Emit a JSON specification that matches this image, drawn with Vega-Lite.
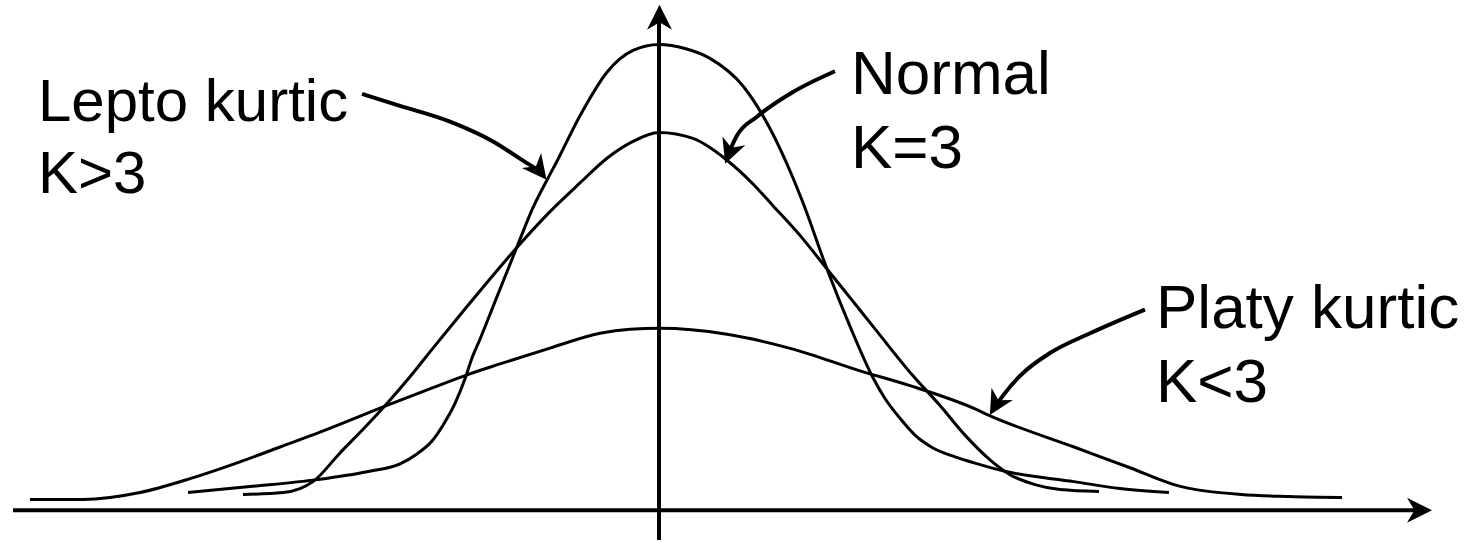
{
  "$schema": "https://vega.github.io/schema/vega-lite/v6.json",
  "width": 1474,
  "height": 542,
  "autosize": {"type": "fit", "contains": "padding"},
  "padding": 0,
  "background": "white",
  "config": {"view": {"stroke": null}},
  "datasets": {
    "curves": [
      {"c": "lepto", "x": 188, "h": 18}, {"c": "lepto", "x": 250, "h": 24}, {"c": "lepto", "x": 317, "h": 31}, {"c": "lepto", "x": 367, "h": 39},
      {"c": "lepto", "x": 400, "h": 47}, {"c": "lepto", "x": 417, "h": 57}, {"c": "lepto", "x": 432, "h": 70}, {"c": "lepto", "x": 443, "h": 86},
      {"c": "lepto", "x": 455, "h": 108}, {"c": "lepto", "x": 465, "h": 133}, {"c": "lepto", "x": 472, "h": 154}, {"c": "lepto", "x": 480, "h": 173},
      {"c": "lepto", "x": 497, "h": 216}, {"c": "lepto", "x": 518, "h": 269}, {"c": "lepto", "x": 533, "h": 306}, {"c": "lepto", "x": 547, "h": 334},
      {"c": "lepto", "x": 557, "h": 353}, {"c": "lepto", "x": 580, "h": 399}, {"c": "lepto", "x": 607, "h": 443}, {"c": "lepto", "x": 633, "h": 465},
      {"c": "lepto", "x": 659, "h": 471}, {"c": "lepto", "x": 685, "h": 467}, {"c": "lepto", "x": 710, "h": 457}, {"c": "lepto", "x": 743, "h": 429},
      {"c": "lepto", "x": 770, "h": 386}, {"c": "lepto", "x": 793, "h": 336}, {"c": "lepto", "x": 803, "h": 311}, {"c": "lepto", "x": 827, "h": 244},
      {"c": "lepto", "x": 850, "h": 186}, {"c": "lepto", "x": 873, "h": 134}, {"c": "lepto", "x": 885, "h": 113}, {"c": "lepto", "x": 900, "h": 93},
      {"c": "lepto", "x": 915, "h": 76}, {"c": "lepto", "x": 933, "h": 63}, {"c": "lepto", "x": 955, "h": 54}, {"c": "lepto", "x": 974, "h": 48},
      {"c": "lepto", "x": 1007, "h": 39}, {"c": "lepto", "x": 1074, "h": 29}, {"c": "lepto", "x": 1120, "h": 22}, {"c": "lepto", "x": 1169, "h": 18},

      {"c": "normal", "x": 243, "h": 16}, {"c": "normal", "x": 283, "h": 18}, {"c": "normal", "x": 300, "h": 22}, {"c": "normal", "x": 313, "h": 29},
      {"c": "normal", "x": 340, "h": 58}, {"c": "normal", "x": 365, "h": 84}, {"c": "normal", "x": 387, "h": 108}, {"c": "normal", "x": 410, "h": 135},
      {"c": "normal", "x": 433, "h": 164}, {"c": "normal", "x": 467, "h": 206}, {"c": "normal", "x": 495, "h": 240}, {"c": "normal", "x": 518, "h": 267},
      {"c": "normal", "x": 550, "h": 302}, {"c": "normal", "x": 580, "h": 331}, {"c": "normal", "x": 607, "h": 356}, {"c": "normal", "x": 633, "h": 373},
      {"c": "normal", "x": 659, "h": 382}, {"c": "normal", "x": 693, "h": 376}, {"c": "normal", "x": 727, "h": 354}, {"c": "normal", "x": 753, "h": 330},
      {"c": "normal", "x": 773, "h": 308}, {"c": "normal", "x": 800, "h": 278}, {"c": "normal", "x": 827, "h": 244}, {"c": "normal", "x": 850, "h": 215},
      {"c": "normal", "x": 873, "h": 186}, {"c": "normal", "x": 913, "h": 136}, {"c": "normal", "x": 940, "h": 106}, {"c": "normal", "x": 965, "h": 76},
      {"c": "normal", "x": 990, "h": 51}, {"c": "normal", "x": 1010, "h": 36}, {"c": "normal", "x": 1035, "h": 26}, {"c": "normal", "x": 1060, "h": 21},
      {"c": "normal", "x": 1099, "h": 19},

      {"c": "platy", "x": 30, "h": 11}, {"c": "platy", "x": 83, "h": 11}, {"c": "platy", "x": 140, "h": 18}, {"c": "platy", "x": 190, "h": 32},
      {"c": "platy", "x": 240, "h": 49}, {"c": "platy", "x": 280, "h": 64}, {"c": "platy", "x": 320, "h": 79}, {"c": "platy", "x": 387, "h": 106},
      {"c": "platy", "x": 433, "h": 124}, {"c": "platy", "x": 467, "h": 137}, {"c": "platy", "x": 500, "h": 148}, {"c": "platy", "x": 550, "h": 164},
      {"c": "platy", "x": 600, "h": 179}, {"c": "platy", "x": 630, "h": 183}, {"c": "platy", "x": 660, "h": 184}, {"c": "platy", "x": 727, "h": 178},
      {"c": "platy", "x": 793, "h": 163}, {"c": "platy", "x": 860, "h": 141}, {"c": "platy", "x": 910, "h": 126}, {"c": "platy", "x": 974, "h": 103},
      {"c": "platy", "x": 989, "h": 96}, {"c": "platy", "x": 1074, "h": 64}, {"c": "platy", "x": 1130, "h": 43}, {"c": "platy", "x": 1174, "h": 26},
      {"c": "platy", "x": 1241, "h": 16}, {"c": "platy", "x": 1290, "h": 14}, {"c": "platy", "x": 1342, "h": 13}
    ],
    "pointers": [
      {"p": "lepto", "x": 362, "h": 421}, {"p": "lepto", "x": 400, "h": 409}, {"p": "lepto", "x": 450, "h": 393},
      {"p": "lepto", "x": 493, "h": 373}, {"p": "lepto", "x": 527, "h": 351}, {"p": "lepto", "x": 540, "h": 343},
      {"p": "normal", "x": 835, "h": 444}, {"p": "normal", "x": 793, "h": 423}, {"p": "normal", "x": 757, "h": 398},
      {"p": "normal", "x": 737, "h": 379}, {"p": "normal", "x": 729, "h": 362},
      {"p": "platy", "x": 1145, "h": 203}, {"p": "platy", "x": 1090, "h": 179}, {"p": "platy", "x": 1050, "h": 159},
      {"p": "platy", "x": 1020, "h": 136}, {"p": "platy", "x": 1003, "h": 116}, {"p": "platy", "x": 996, "h": 106}
    ],
    "labels": [
      {"x": 38, "h": 394, "t": "Lepto kurtic", "g": "a"},
      {"x": 38, "h": 321, "t": "K>3", "g": "a"},
      {"x": 851, "h": 421, "t": "Normal", "g": "b"},
      {"x": 851, "h": 346, "t": "K=3", "g": "b"},
      {"x": 1156, "h": 184, "t": "Platy kurtic", "g": "b"},
      {"x": 1156, "h": 109, "t": "K<3", "g": "b"}
    ]
  },
  "layer": [
    {
      "data": {"values": [{"x": 13, "x2": 1415, "h": 0}]},
      "mark": {"type": "rule", "strokeWidth": 4, "color": "black"},
      "encoding": {
        "x": {"field": "x", "type": "quantitative", "scale": {"domain": [0, 1474], "nice": false, "zero": false}, "axis": null},
        "x2": {"field": "x2"},
        "y": {"field": "h", "type": "quantitative", "scale": {"domain": [-26, 516], "nice": false, "zero": false}, "axis": null}
      }
    },
    {
      "data": {"values": [{"x": 659, "h": -30, "h2": 494}]},
      "mark": {"type": "rule", "strokeWidth": 4, "color": "black"},
      "encoding": {
        "x": {"field": "x", "type": "quantitative", "axis": null},
        "y": {"field": "h", "type": "quantitative", "axis": null},
        "y2": {"field": "h2"}
      }
    },
    {
      "data": {"name": "curves"},
      "mark": {"type": "line", "interpolate": "monotone", "strokeWidth": 3, "color": "black"},
      "encoding": {
        "x": {"field": "x", "type": "quantitative", "axis": null},
        "y": {"field": "h", "type": "quantitative", "axis": null},
        "detail": {"field": "c"}
      }
    },
    {
      "data": {"name": "pointers"},
      "mark": {"type": "line", "interpolate": "monotone", "strokeWidth": 4, "color": "black"},
      "encoding": {
        "x": {"field": "x", "type": "quantitative", "axis": null},
        "y": {"field": "h", "type": "quantitative", "axis": null},
        "detail": {"field": "p"}
      }
    },
    {
      "data": {"values": [{"x": 1419.5, "h": 0}]},
      "mark": {"type": "point", "shape": "M0,-1L1,1L0,0.4L-1,1Z", "size": 625, "filled": true, "opacity": 1, "color": "black", "angle": 90},
      "encoding": {"x": {"field": "x", "type": "quantitative", "axis": null}, "y": {"field": "h", "type": "quantitative", "axis": null}}
    },
    {
      "data": {"values": [{"x": 659.5, "h": 498.5}]},
      "mark": {"type": "point", "shape": "M0,-1L1,1L0,0.4L-1,1Z", "size": 625, "filled": true, "opacity": 1, "color": "black", "angle": 0},
      "encoding": {"x": {"field": "x", "type": "quantitative", "axis": null}, "y": {"field": "h", "type": "quantitative", "axis": null}}
    },
    {
      "data": {"values": [{"x": 539, "h": 344}]},
      "mark": {"type": "point", "shape": "M0,-1L1,1L0,0.4L-1,1Z", "size": 600, "filled": true, "opacity": 1, "color": "black", "angle": 142},
      "encoding": {"x": {"field": "x", "type": "quantitative", "axis": null}, "y": {"field": "h", "type": "quantitative", "axis": null}}
    },
    {
      "data": {"values": [{"x": 729.5, "h": 362}]},
      "mark": {"type": "point", "shape": "M0,-1L1,1L0,0.4L-1,1Z", "size": 600, "filled": true, "opacity": 1, "color": "black", "angle": 201},
      "encoding": {"x": {"field": "x", "type": "quantitative", "axis": null}, "y": {"field": "h", "type": "quantitative", "axis": null}}
    },
    {
      "data": {"values": [{"x": 996, "h": 107}]},
      "mark": {"type": "point", "shape": "M0,-1L1,1L0,0.4L-1,1Z", "size": 600, "filled": true, "opacity": 1, "color": "black", "angle": 210},
      "encoding": {"x": {"field": "x", "type": "quantitative", "axis": null}, "y": {"field": "h", "type": "quantitative", "axis": null}}
    },
    {
      "data": {"name": "labels"},
      "transform": [{"filter": "datum.g == 'a'"}],
      "mark": {"type": "text", "align": "left", "baseline": "alphabetic", "font": "Liberation Sans", "fontSize": 60, "color": "black"},
      "encoding": {
        "x": {"field": "x", "type": "quantitative", "axis": null},
        "y": {"field": "h", "type": "quantitative", "axis": null},
        "text": {"field": "t"}
      }
    },
    {
      "data": {"name": "labels"},
      "transform": [{"filter": "datum.g == 'b'"}],
      "mark": {"type": "text", "align": "left", "baseline": "alphabetic", "font": "Liberation Sans", "fontSize": 62, "color": "black"},
      "encoding": {
        "x": {"field": "x", "type": "quantitative", "axis": null},
        "y": {"field": "h", "type": "quantitative", "axis": null},
        "text": {"field": "t"}
      }
    }
  ]
}
